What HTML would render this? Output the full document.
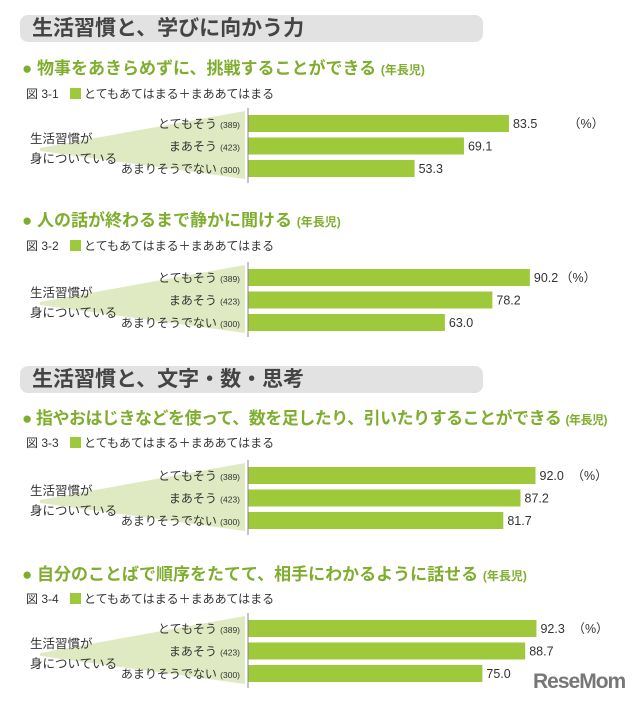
<!DOCTYPE html>
<html><head><meta charset="utf-8">
<style>
body{margin:0;background:#fff;width:640px;height:702px;overflow:hidden;position:relative;font-family:"Liberation Sans","Noto Sans CJK JP",sans-serif;}
.sec{position:absolute;left:20px;width:463px;height:27px;background:#e2e2e2;border-radius:8px;font-size:21px;font-weight:bold;color:#444;line-height:27px;padding-left:12px;box-sizing:border-box;}
.sub{position:absolute;left:22px;font-size:17px;font-weight:bold;color:#7fae2f;white-space:nowrap;}
.sub small{font-size:12px;color:#7fae2f;}
.fig{position:absolute;left:26px;font-size:12px;color:#333;white-space:nowrap;}
.fig i{display:inline-block;width:11px;height:11px;background:#9dc93a;vertical-align:-1px;margin:0 3px 0 8px;}
</style></head><body>
<div class="sec" style="top:15px">生活習慣と、学びに向かう力</div>
<div class="sub" style="top:54px">● 物事をあきらめずに、挑戦することができる <small>(年長児)</small></div>
<div class="fig" style="top:85px">図 3-1 <i></i>とてもあてはまる＋まああてはまる</div>
<div class="sub" style="top:206px">● 人の話が終わるまで静かに聞ける <small>(年長児)</small></div>
<div class="fig" style="top:237px">図 3-2 <i></i>とてもあてはまる＋まああてはまる</div>
<div class="sec" style="top:366px">生活習慣と、文字・数・思考</div>
<div class="sub" style="top:404px;letter-spacing:-0.5px">● 指やおはじきなどを使って、数を足したり、引いたりすることができる <small>(年長児)</small></div>
<div class="fig" style="top:434px">図 3-3 <i></i>とてもあてはまる＋まああてはまる</div>
<div class="sub" style="top:560px">● 自分のことばで順序をたてて、相手にわかるように話せる <small>(年長児)</small></div>
<div class="fig" style="top:590px">図 3-4 <i></i>とてもあてはまる＋まああてはまる</div>
<svg id="svg" width="640" height="702" style="position:absolute;left:0;top:0"></svg>
<div style="position:absolute;left:533px;top:670px;font-size:21px;font-weight:bold;color:#777;letter-spacing:-1px">ReseMom</div>
<script>
const categories=["とてもそう","まあそう","あまりそうでない"];
const counts=["(389)","(423)","(300)"];
const chart1=[83.5,69.1,53.3];
const chart2=[90.2,78.2,63.0];
const chart3=[92.0,87.2,81.7];
const chart4=[92.3,88.7,75.0];
const series=[chart1,chart2,chart3,chart4];
const tops=[115,269,467,620];
const NS="http://www.w3.org/2000/svg";
const svg=document.getElementById('svg');
const x0=248,k=3.125,bh=17,step=22.5;
function xs(v){return x0+v*k;}
function mk(t,a){const e=document.createElementNS(NS,t);for(const n in a)e.setAttribute(n,a[n]);svg.appendChild(e);return e;}
series.forEach((vals,ci)=>{
  const t=tops[ci];
  const w=mk('polygon',{points:`40,${t+33} 245,${t-4} 245,${t+2*step+bh+2} 40,${t+36}`,fill:'#dfeac2'});
  
  
  const g1=mk('text',{x:30,y:t+28,'font-size':12.5,fill:'#333'});g1.textContent='生活習慣が';
  
  
  const g2=mk('text',{x:30,y:t+48,'font-size':12.5,fill:'#333'});g2.textContent='身についている';
  
  
  vals.forEach((v,i)=>{
    const y=t+i*step;
    const r=mk('rect',{x:x0,y:y,width:xs(v)-x0,height:bh,fill:'#9dc93a'});
    
    
    const l=mk('text',{x:240,y:y+13,'font-size':12,fill:'#333','text-anchor':'end'});
    l.innerHTML=categories[i]+' <tspan font-size="8.5">'+counts[i]+'</tspan>';
    
    
    const vt=mk('text',{x:xs(v)+4,y:y+13,'font-size':12.5,fill:'#333'});
    vt.textContent=v.toFixed(1);
    
    
    if(i===0){
      const p=mk('text',{x:ci===0?568:ci===1?560:xs(v)+36,y:y+13,'font-size':12.5,fill:'#333'});
      p.textContent='（%）';
      
      
    }
  });
  const ax=mk('line',{x1:x0,x2:x0,y1:t-7,y2:t+2*step+bh+6,stroke:'#888','stroke-width':1});
  
  
});
</script>
</body></html>
